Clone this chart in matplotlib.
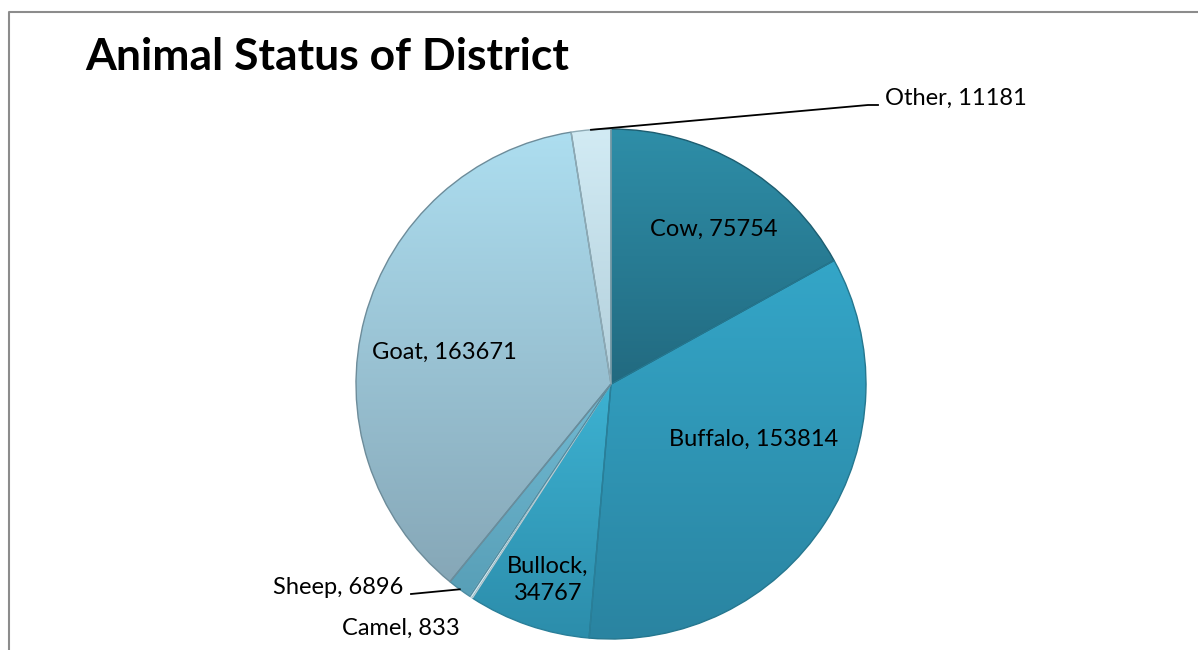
import numpy as np
import matplotlib
matplotlib.use('Agg')
import matplotlib.pyplot as plt
from matplotlib.colors import LinearSegmentedColormap

# data
animals = ['Cow', 'Buffalo', 'Bullock', 'Camel', 'Sheep', 'Goat', 'Other']
counts = [75754, 153814, 34767, 833, 6896, 163671, 11181]

# shading per slice (top colour, bottom colour)
top_colors = ['#2e8ea8', '#34a6c8', '#3db2d2', '#eef7fa', '#72bad3', '#addef0', '#d2ebf4']
bottom_colors = ['#226a80', '#2a84a1', '#2c8dab', '#d8e8ee', '#589fb7', '#86a7b7', '#b3d0dc']
edge_colors = ['#1d5d70', '#25778f', '#2a7f99', '#b9cdd4', '#4d8ca2', '#6d8c9a', '#8eaab5']

# label anchors in pixel coords (y up), layout only
label_pos = {
    'Cow': (714, 421, 'center'),
    'Buffalo': (754, 211, 'center'),
    'Bullock': (548, 70, 'center'),
    'Goat': (444, 298, 'center'),
    'Sheep': (403, 63, 'right'),
    'Camel': (401, 22, 'center'),
    'Other': (885, 552, 'left'),
}

plt.rcParams['font.family'] = ['Lato', 'DejaVu Sans']

W, H = 1198, 650
fig = plt.figure(figsize=(W / 100, H / 100), dpi=100)
ax = fig.add_axes([0, 0, 1, 1])

cx, cy, r = 611, 266, 255
wedges, _ = ax.pie(counts, startangle=90, counterclock=False,
                   center=(cx, cy), radius=r,
                   wedgeprops=dict(linewidth=1.0))

grad = np.linspace(0, 1, 256).reshape(-1, 1)
for w, top, bot, ec in zip(wedges, top_colors, bottom_colors, edge_colors):
    w.set_edgecolor(ec)
    w.set_zorder(3)
    ext = w.get_path().get_extents()
    cmap = LinearSegmentedColormap.from_list('shade', [top, bot])
    im = ax.imshow(grad, cmap=cmap, origin='upper', aspect='auto',
                   extent=(ext.x0, ext.x1, ext.y0, ext.y1), zorder=2)
    im.set_clip_path(w)
    # only the outline is drawn over the gradient
    w.set_facecolor('none')

# labels
for name, val in zip(animals, counts):
    x, y, ha = label_pos[name]
    txt = f'{name}, {val}' if name != 'Bullock' else f'{name},\n{val}'
    ax.text(x, y, txt, ha=ha, va='center', fontsize=17, color='black',
            linespacing=1.4, zorder=5)


def edge_point(w):
    mid = np.deg2rad((w.theta1 + w.theta2) / 2)
    return cx + r * np.cos(mid), cy + r * np.sin(mid)


# leader lines for Other and Sheep
ox, oy = edge_point(wedges[animals.index('Other')])
ax.plot([ox, 868, 878], [oy, 545, 545], color='black', lw=1.3, zorder=4)
sx, sy = edge_point(wedges[animals.index('Sheep')])
ax.plot([sx, 411], [sy, 56], color='black', lw=1.3, zorder=4)

# title
ax.text(85, 593, 'Animal Status of District', ha='left', va='center',
        fontsize=32, fontweight='bold', color='black')

# chart frame (top and left edges visible)
ax.plot([8.5, 8.5, W], [0, 638, 638], color='#8c8c8c', lw=1.5, zorder=1)

ax.set_xlim(0, W)
ax.set_ylim(0, H)
ax.set_aspect('auto')
ax.axis('off')

fig.savefig('out.png', dpi=100)
